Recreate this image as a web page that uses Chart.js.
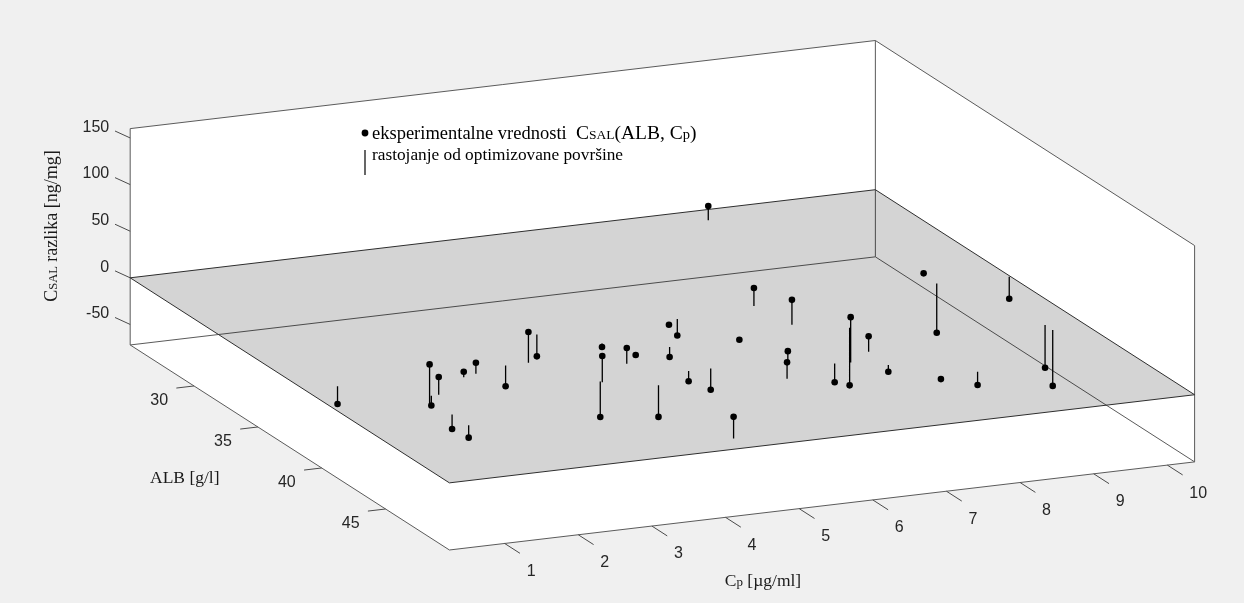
<!DOCTYPE html>
<html><head><meta charset="utf-8">
<script src="https://cdn.jsdelivr.net/npm/chart.js@4.4.0/dist/chart.umd.min.js"></script>
<style>html,body{margin:0;padding:0;background:#f0f0f0;}canvas{display:block;}</style>
</head><body>
<canvas id="c" width="1244" height="603"></canvas>
<script>
// ---- data ----
const cpValues = [0.69, 1.42, 1.60, 1.70, 1.50, 1.50, 2.30, 2.50, 2.99, 3.30, 3.90, 3.80, 4.49, 3.79, 4.41, 4.67, 5.59, 5.79, 5.20, 4.39, 4.99, 5.29, 7.91, 4.30, 6.13, 6.90, 7.00, 6.32, 5.98, 7.00, 7.61, 7.40, 6.80, 7.39, 9.43, 9.40, 7.74, 8.29, 10.35, 9.90, 9.90];
const albValues = [38.7, 41.7, 40.8, 40.8, 43.0, 44.3, 39.3, 39.1, 38.6, 38.6, 35.8, 41.5, 37.5, 41.4, 39.9, 39.1, 36.4, 35.9, 38.7, 42.5, 41.4, 41.4, 26.1, 48.9, 38.8, 35.5, 37.9, 41.5, 43.4, 42.5, 38.9, 41.6, 42.4, 43.2, 34.2, 35.4, 45.3, 45.0, 35.6, 41.0, 41.6];
const diffValues = [-19.0, 43.1, -10.6, 19.0, -15.4, -13.3, 5.9, 12.0, -22.2, 33.1, -23.3, 28.1, -3.9, -38.1, 16.9, 0, 0, -17.7, -10.6, -33.9, -10.9, -22.8, 15.1, 23.3, 0, 19.4, 26.8, 9.8, 17.7, 48.7, -61.8, 16.5, -20.1, -7.4, 0, -52.9, 0, -14.1, -23.6, -45.8, -60.0];
const zTicks = [-50, 0, 50, 100, 150];
const albTicks = [30, 35, 40, 45];
const cpTicks = [1, 2, 3, 4, 5, 6, 7, 8, 9, 10];
const cpLimits = [0.25, 10.37];
const albLimits = [25, 50];
const zLimits = [-72, 160];

// ---- view: orthographic projection of the 3-D axes onto the page ----
const view = { ox: 127, oy: 277.5, cpVec: [750, -89.3], albVec: [321.3, 207.8], zScale: 0.945 };
function project(cp, alb, z) {
  const s = (cp - cpLimits[0]) / (cpLimits[1] - cpLimits[0]);
  const t = (alb - albLimits[0]) / (albLimits[1] - albLimits[0]);
  return { x: view.ox + s * view.cpVec[0] + t * view.albVec[0],
           y: view.oy + s * view.cpVec[1] + t * view.albVec[1] - z * view.zScale };
}
function segs(pairs) {
  const out = [];
  pairs.forEach(([a, b]) => { out.push({x: a.x, y: a.y}, {x: b.x, y: b.y}, {x: b.x, y: null}); });
  return out;
}
const [c0, c1] = cpLimits, [a0, a1] = albLimits, [z0, z1] = zLimits;
const A = project(c0, a0, z0), B = project(c0, a1, z0), C = project(c1, a1, z0), D = project(c1, a0, z0);
const At = project(c0, a0, z1), Ct = project(c1, a1, z1), Dt = project(c1, a0, z1);
const PA = project(c0, a0, 0), PB = project(c0, a1, 0), PC = project(c1, a1, 0), PD = project(c1, a0, 0);

const boxData = segs([[A, At], [D, Dt], [C, Ct], [At, Dt], [Dt, Ct], [A, D], [D, C], [A, B], [B, C]]);
const tickPairs = [];
zTicks.forEach(v => tickPairs.push([project(c0, a0, v), project(c0 - 0.05, a0 - 0.9, v)]));
albTicks.forEach(v => tickPairs.push([project(c0, v, z0), project(c0 - 0.24, v, z0)]));
cpTicks.forEach(v => tickPairs.push([project(v, a1, z0), project(v, a1 + 1.2, z0)]));
const tickData = segs(tickPairs);
const planeData = [PA, PD, PC, PB, PA].map(p => ({x: p.x, y: p.y}));
const stemData = segs(cpValues.map((cp, i) => [project(cp, albValues[i], 0), project(cp, albValues[i], diffValues[i])]));
const pointData = cpValues.map((cp, i) => project(cp, albValues[i], diffValues[i]));

const SERIF = '"Liberation Serif", "Times New Roman", serif';
const SANS = '"Liberation Sans", Arial, sans-serif';

function poly(chart, pts, fill) {
  const ctx = chart.ctx, sx = chart.scales.x, sy = chart.scales.y;
  ctx.beginPath();
  pts.forEach((p, i) => { const X = sx.getPixelForValue(p.x), Y = sy.getPixelForValue(p.y); i ? ctx.lineTo(X, Y) : ctx.moveTo(X, Y); });
  ctx.closePath(); ctx.fillStyle = fill; ctx.fill();
}
function rich(ctx, parts, x, y, align) {
  let w = 0;
  parts.forEach(p => { ctx.font = p.s + 'px ' + SERIF; w += ctx.measureText(p.t).width; });
  let cx = align === 'center' ? x - w / 2 : x;
  ctx.textAlign = 'left'; ctx.textBaseline = 'alphabetic';
  parts.forEach(p => { ctx.font = p.s + 'px ' + SERIF; ctx.fillText(p.t, cx, y); cx += ctx.measureText(p.t).width; });
}

const scenePlugin = {
  id: 'scene',
  beforeDatasetsDraw(chart) {
    poly(chart, [A, B, C, D], '#ffffff');
    poly(chart, [A, D, Dt, At], '#ffffff');
    poly(chart, [D, C, Ct, Dt], '#ffffff');
  },
  beforeDatasetDraw(chart, args) {
    if (chart.data.datasets[args.index].label === 'plane') poly(chart, [PA, PD, PC, PB], 'rgba(0,0,0,0.17)');
  },
  afterDatasetsDraw(chart) {
    const ctx = chart.ctx, sx = chart.scales.x, sy = chart.scales.y;
    const px = p => ({x: sx.getPixelForValue(p.x), y: sy.getPixelForValue(p.y)});
    ctx.save();
    ctx.fillStyle = '#262626';
    ctx.font = '16px ' + SANS;
    ctx.textBaseline = 'middle';
    ctx.textAlign = 'right';
    zTicks.forEach(v => { const p = px(project(c0, a0, v)); ctx.fillText(String(v), p.x - 21, p.y - 10.5); });
    albTicks.forEach(v => { const p = px(project(c0, v, z0)); ctx.fillText(String(v), p.x - 26, p.y + 15); });
    ctx.textAlign = 'left';
    cpTicks.forEach(v => { const p = px(project(v, a1, z0)); ctx.fillText(String(v), p.x + 22, p.y + 28); });
    // axis labels
    ctx.fillStyle = '#1a1a1a';
    ctx.save();
    ctx.translate(57, 226); ctx.rotate(-Math.PI / 2);
    rich(ctx, [{t: 'C', s: 18}, {t: 'SAL', s: 12.5}, {t: ' razlika [ng/mg]', s: 18}], 0, 0, 'center');
    ctx.restore();
    rich(ctx, [{t: 'ALB [g/l]', s: 17.5}], 150, 483, 'left');
    rich(ctx, [{t: 'C', s: 17.5}, {t: 'p', s: 13}, {t: ' [\u00b5g/ml]', s: 17.5}], 763, 586, 'center');
    // legend
    ctx.fillStyle = '#000';
    ctx.beginPath(); ctx.arc(365, 133, 3.4, 0, Math.PI * 2); ctx.fill();
    rich(ctx, [{t: 'eksperimentalne vrednosti  ', s: 18.5}, {t: 'C', s: 19.5}, {t: 'SAL', s: 13.5}, {t: '(ALB, C', s: 19.5}, {t: 'p', s: 14.5}, {t: ')', s: 19.5}], 372, 138.5, 'left');
    ctx.strokeStyle = '#000'; ctx.lineWidth = 1.2;
    ctx.beginPath(); ctx.moveTo(365, 150); ctx.lineTo(365, 175); ctx.stroke();
    rich(ctx, [{t: 'rastojanje od optimizovane površine', s: 17.3}], 372, 159.5, 'left');
    ctx.restore();
  }
};

new Chart(document.getElementById('c'), {
  type: 'scatter',
  data: { datasets: [
    { label: 'points', data: pointData, pointRadius: 3.3, pointBackgroundColor: '#000', pointBorderWidth: 0, showLine: false, order: 1 },
    { label: 'stems', data: stemData, showLine: true, pointRadius: 0, borderColor: '#000', borderWidth: 1.3, spanGaps: false, order: 2 },
    { label: 'plane', data: planeData, showLine: true, pointRadius: 0, borderColor: '#2e2e2e', borderWidth: 1, order: 3 },
    { label: 'ticks', data: tickData, showLine: true, pointRadius: 0, borderColor: '#4a4a4a', borderWidth: 1, spanGaps: false, order: 4 },
    { label: 'box', data: boxData, showLine: true, pointRadius: 0, borderColor: '#5a5a5a', borderWidth: 1, spanGaps: false, order: 5 }
  ]},
  options: {
    responsive: false, animation: false, devicePixelRatio: 1, events: [],
    layout: { padding: 0 },
    elements: { line: { tension: 0 } },
    scales: {
      x: { type: 'linear', min: 0, max: 1244, display: false },
      y: { type: 'linear', min: 0, max: 603, reverse: true, display: false }
    },
    plugins: { legend: { display: false }, tooltip: { enabled: false } }
  },
  plugins: [scenePlugin]
});
</script>
</body></html>
